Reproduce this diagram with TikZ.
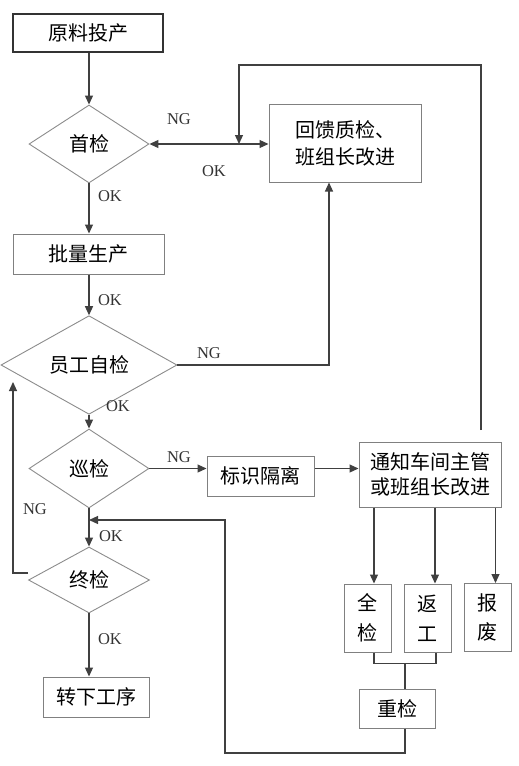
\documentclass[tikz,border=0pt]{standalone}
\usepackage{fontspec}
\setmainfont{Liberation Serif}
\newfontfamily\cjk{Noto Sans CJK SC}
\usetikzlibrary{shapes.geometric,arrows.meta}
\begin{document}
\begin{tikzpicture}[x=1pt,y=-1pt,
  conn/.style={draw=black!75,line width=1.2pt},
  arr/.style={conn,-{Triangle[length=9pt,width=8pt]}},
  darr/.style={conn,{Triangle[length=9pt,width=8pt]}-{Triangle[length=9pt,width=8pt]}},
  stepbox/.style={draw=black!50,line width=1pt,fill=white,inner sep=0pt,align=center,
    font=\cjk\fontsize{20}{26}\selectfont},
  decision/.style={diamond,draw=black!45,line width=0.9pt,inner sep=0pt,
    font=\cjk\fontsize{20}{26}\selectfont},
  lab/.style={font=\fontsize{16.5}{18}\selectfont,text=black!80,inner sep=0pt}]
\useasboundingbox (0,0) rectangle (519,766);
\fill[white] (0,0) rectangle (519,766);
% boxes
\node[stepbox,draw=black!80,line width=1.6pt,minimum width=150pt,minimum height=38pt] (yl) at (88,33) {原料投产};
\node[stepbox,minimum width=151pt,minimum height=40pt] (pl) at (88.5,254) {批量生产};
\node[stepbox,minimum width=152pt,minimum height=78pt,font=\cjk\fontsize{20}{27}\selectfont] (hk) at (345,143) {回馈质检、\\班组长改进};
\node[stepbox,minimum width=107pt,minimum height=40pt] (bs) at (260.5,476) {标识隔离};
\node[stepbox,minimum width=142pt,minimum height=65pt,font=\cjk\fontsize{20}{25}\selectfont] (tz) at (430,474.5) {通知车间主管\\或班组长改进};
\node[stepbox,minimum width=47pt,minimum height=68pt,font=\cjk\fontsize{20}{30}\selectfont] (qj) at (367.5,618) {全\\检};
\node[stepbox,minimum width=47pt,minimum height=68pt,font=\cjk\fontsize{20}{30}\selectfont] (fg) at (427.5,618) {返\\工};
\node[stepbox,minimum width=47pt,minimum height=68pt,font=\cjk\fontsize{20}{29}\selectfont] (bf) at (487.5,617.5) {报\\废};
\node[stepbox,minimum width=76pt,minimum height=39pt] (cj) at (397,708.5) {重检};
\node[stepbox,minimum width=106pt,minimum height=40pt] (zx) at (96,697) {转下工序};
% diamonds
\node[decision,minimum width=120pt,minimum height=78pt] (sj) at (89,144) {首检};
\node[decision,minimum width=176pt,minimum height=77pt] (yg) at (89,365) {员工自检};
\node[decision,minimum width=120pt,minimum height=79pt] (xj) at (89,468.5) {巡检};
\node[decision,minimum width=121pt,minimum height=66pt] (zj) at (89,580) {终检};
% coordinates
\coordinate (lp) at (481,430);
\coordinate (lpend) at (239,144);
\coordinate (mj) at (89,520);
\coordinate (ngend) at (13,382);
% connectors
\draw[arr] (yl.south -| sj.north) -- (sj.north);
\draw[arr] (sj.south) -- (sj.south |- pl.north);
\draw[arr] (pl.south -| yg.north) -- (yg.north);
\draw[arr] (yg.south) -- (xj.north);
\draw[arr] (xj.south) -- (zj.north);
\draw[arr] (zj.south) -- (zj.south |- zx.north);
\draw[darr] (sj.east) -- (sj.east -| hk.west);
\draw[arr] (lp) -- (481,65) -| (lpend);
\draw[arr] (yg.east) -| ([xshift=-16pt]hk.south);
\draw[arr] (xj.east) -- (xj.east -| bs.west);
\draw[arr] (bs.east |- xj.east) -- (tz.west |- xj.east);
\draw[arr] ([xshift=6.5pt]qj.north |- tz.south) -- ([xshift=6.5pt]qj.north);
\draw[arr] ([xshift=7.5pt]fg.north |- tz.south) -- ([xshift=7.5pt]fg.north);
\draw[arr] ([xshift=8pt]bf.north |- tz.south) -- ([xshift=8pt]bf.north);
\draw[conn] ([xshift=6.5pt]qj.south) -- ++(0,11) -| ([xshift=8.5pt]fg.south);
\draw[conn] ([xshift=8pt]cj.north) -- ++(0,-26);
\draw[arr] ([xshift=8pt]cj.south) |- (225,753) |- (mj);
\draw[arr] ([yshift=7pt]zj.west) -| (ngend);
% labels
\node[lab] at (179,119) {NG};
\node[lab] at (214,171) {OK};
\node[lab] at (110,196) {OK};
\node[lab] at (110,300) {OK};
\node[lab] at (209,353) {NG};
\node[lab] at (118,406) {OK};
\node[lab] at (179,457) {NG};
\node[lab] at (35,509) {NG};
\node[lab] at (111,536) {OK};
\node[lab] at (110,639) {OK};
\end{tikzpicture}
\end{document}
